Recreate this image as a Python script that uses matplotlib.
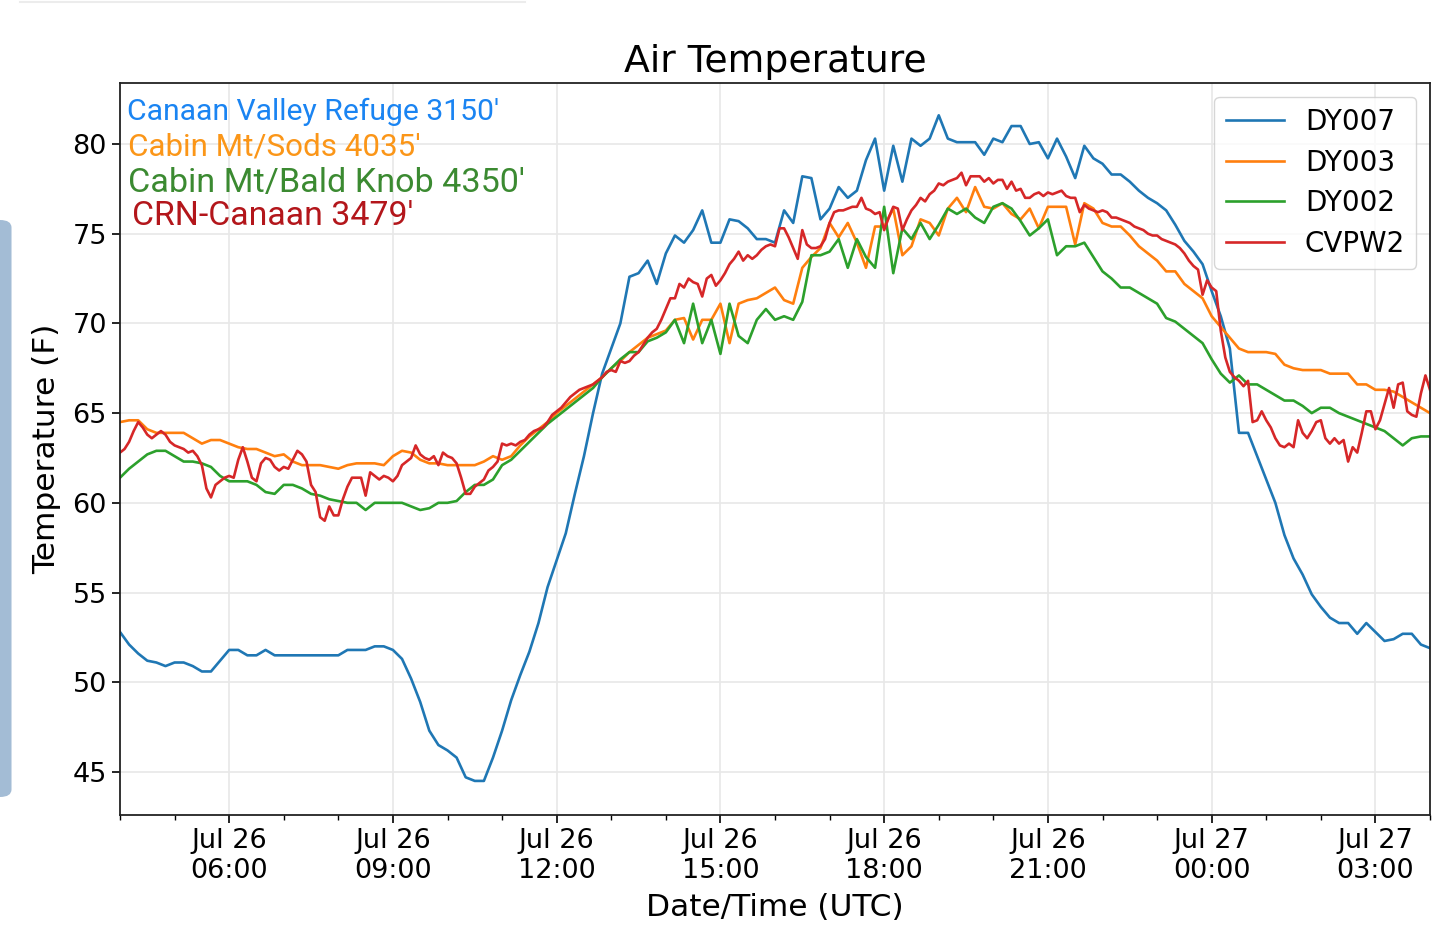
import numpy as np
import pandas as pd
import matplotlib
matplotlib.use('Agg')
import matplotlib.pyplot as plt
import matplotlib.dates as mdates
from matplotlib.patches import FancyBboxPatch
from matplotlib.lines import Line2D

# air temperature (F), 10 minute steps from Jul 26 04:00 UTC
dy007 = [
    52.8, 52.1, 51.6, 51.2, 51.1, 50.9,  # 04
    51.1, 51.1, 50.9, 50.6, 50.6, 51.2,  # 05
    51.8, 51.8, 51.5, 51.5, 51.8, 51.5,  # 06
    51.5, 51.5, 51.5, 51.5, 51.5, 51.5,  # 07
    51.5, 51.8, 51.8, 51.8, 52.0, 52.0,  # 08
    51.8, 51.3, 50.2, 48.9, 47.3, 46.5,  # 09
    46.2, 45.8, 44.7, 44.5, 44.5, 45.8,  # 10
    47.3, 49.0, 50.4, 51.7, 53.3, 55.3,  # 11
    56.8, 58.3, 60.5, 62.6, 65.0, 67.2,  # 12
    68.6, 70.0, 72.6, 72.8, 73.5, 72.2,  # 13
    73.9, 74.9, 74.5, 75.2, 76.3, 74.5,  # 14
    74.5, 75.8, 75.7, 75.3, 74.7, 74.7,  # 15
    74.5, 76.3, 75.6, 78.2, 78.1, 75.8,  # 16
    76.4, 77.6, 77.0, 77.4, 79.1, 80.3,  # 17
    77.4, 79.9, 77.9, 80.3, 79.9, 80.3,  # 18
    81.6, 80.3, 80.1, 80.1, 80.1, 79.4,  # 19
    80.3, 80.1, 81.0, 81.0, 80.0, 80.1,  # 20
    79.2, 80.3, 79.3, 78.1, 79.9, 79.2,  # 21
    78.9, 78.3, 78.3, 77.9, 77.4, 77.0,  # 22
    76.7, 76.3, 75.5, 74.6, 74.0, 73.3,  # 23
    71.8, 70.4, 68.6, 63.9, 63.9, 62.6,  # 00
    61.3, 60.0, 58.2, 56.9, 56.0, 54.9,  # 01
    54.2, 53.6, 53.3, 53.3, 52.7, 53.3,  # 02
    52.8, 52.3, 52.4, 52.7, 52.7, 52.1,  # 03
    51.9]

dy003 = [
    64.5, 64.6, 64.6, 64.1, 63.9, 63.9,
    63.9, 63.9, 63.6, 63.3, 63.5, 63.5,
    63.3, 63.1, 63.0, 63.0, 62.8, 62.6,
    62.7, 62.3, 62.1, 62.1, 62.1, 62.0,
    61.9, 62.1, 62.2, 62.2, 62.2, 62.1,
    62.6, 62.9, 62.8, 62.4, 62.2, 62.2,
    62.1, 62.1, 62.1, 62.1, 62.3, 62.6,
    62.4, 62.6, 63.2, 63.7, 64.1, 64.5,
    65.0, 65.4, 65.8, 66.2, 66.6, 67.0,
    67.5, 67.9, 68.4, 68.8, 69.2, 69.4,
    69.6, 70.2, 70.3, 69.1, 70.2, 70.2,
    71.1, 68.9, 71.1, 71.3, 71.4, 71.7,
    72.0, 71.3, 71.1, 73.1, 73.7, 74.2,
    75.6, 74.8, 75.6, 74.5, 73.1, 75.4,
    75.4, 76.4, 73.8, 74.3, 75.8, 75.6,
    74.9, 76.4, 77.0, 76.2, 77.6, 76.5,
    76.4, 76.7, 76.1, 75.8, 76.4, 75.3,
    76.5, 76.5, 76.5, 74.4, 76.7, 76.4,
    75.6, 75.4, 75.4, 74.9, 74.3, 73.9,
    73.5, 72.9, 72.9, 72.2, 71.8, 71.4,
    70.4, 69.8, 69.2, 68.6, 68.4, 68.4,
    68.4, 68.3, 67.7, 67.5, 67.4, 67.4,
    67.4, 67.2, 67.2, 67.2, 66.6, 66.6,
    66.3, 66.3, 66.2, 65.9, 65.6, 65.3,
    65.0]

dy002 = [
    61.4, 61.9, 62.3, 62.7, 62.9, 62.9,
    62.6, 62.3, 62.3, 62.2, 62.0, 61.5,
    61.2, 61.2, 61.2, 61.0, 60.6, 60.5,
    61.0, 61.0, 60.8, 60.5, 60.4, 60.2,
    60.1, 60.0, 60.0, 59.6, 60.0, 60.0,
    60.0, 60.0, 59.8, 59.6, 59.7, 60.0,
    60.0, 60.1, 60.6, 61.0, 61.0, 61.3,
    62.1, 62.4, 62.9, 63.4, 63.9, 64.4,
    64.8, 65.2, 65.6, 66.0, 66.4, 67.0,
    67.5, 68.0, 68.4, 68.4, 69.0, 69.2,
    69.5, 70.2, 68.9, 71.1, 68.9, 70.2,
    68.3, 71.1, 69.3, 68.9, 70.2, 70.8,
    70.2, 70.4, 70.2, 71.2, 73.8, 73.8,
    74.0, 74.7, 73.1, 74.7, 73.7, 73.1,
    76.5, 72.8, 75.3, 74.7, 75.6, 74.7,
    75.5, 76.4, 76.1, 76.4, 75.9, 75.6,
    76.5, 76.7, 76.4, 75.7, 74.9, 75.3,
    75.8, 73.8, 74.3, 74.3, 74.5, 73.7,
    72.9, 72.5, 72.0, 72.0, 71.7, 71.4,
    71.1, 70.3, 70.1, 69.7, 69.3, 68.9,
    68.0, 67.2, 66.7, 67.1, 66.6, 66.6,
    66.3, 66.0, 65.7, 65.7, 65.4, 65.0,
    65.3, 65.3, 65.0, 64.8, 64.6, 64.4,
    64.2, 64.0, 63.6, 63.2, 63.6, 63.7,
    63.7]

# CVPW2 reports every 5 minutes
cvpw2 = [
    62.8, 63.0, 63.4, 64.0, 64.5, 64.2, 63.8, 63.6, 63.8, 64.0, 63.8, 63.4,  # 04
    63.2, 63.1, 63.0, 62.8, 62.9, 62.6, 62.1, 60.8, 60.3, 61.0, 61.2, 61.4,  # 05
    61.5, 61.4, 62.4, 63.1, 62.3, 61.4, 61.2, 62.2, 62.5, 62.4, 62.0, 61.8,  # 06
    62.0, 61.9, 62.4, 62.9, 62.7, 62.3, 61.0, 60.6, 59.2, 59.0, 59.8, 59.3,  # 07
    59.3, 60.2, 60.9, 61.4, 61.4, 61.4, 60.4, 61.7, 61.5, 61.3, 61.5, 61.4,  # 08
    61.2, 61.5, 62.1, 62.3, 62.5, 63.2, 62.7, 62.5, 62.4, 62.6, 62.1, 62.8,  # 09
    62.6, 62.5, 62.2, 61.4, 60.5, 60.5, 60.9, 61.1, 61.3, 61.8, 62.0, 62.3,  # 10
    63.3, 63.2, 63.3, 63.2, 63.4, 63.5, 63.8, 64.0, 64.1, 64.2, 64.5, 64.9,  # 11
    65.1, 65.3, 65.6, 65.9, 66.1, 66.3, 66.4, 66.5, 66.6, 66.8, 67.0, 67.3,  # 12
    67.4, 67.3, 67.9, 67.8, 67.9, 68.2, 68.4, 68.8, 69.2, 69.5, 69.7, 70.2,  # 13
    70.8, 71.4, 71.4, 72.2, 72.0, 72.5, 72.3, 72.2, 71.5, 72.5, 72.7, 72.1,  # 14
    72.4, 72.8, 73.3, 73.6, 74.0, 73.5, 73.8, 73.6, 73.8, 74.1, 74.3, 74.4,  # 15
    74.3, 75.3, 75.3, 74.8, 74.2, 73.6, 75.2, 74.4, 74.2, 74.2, 74.3, 74.7,  # 16
    75.6, 76.2, 76.3, 76.3, 76.4, 76.5, 76.5, 77.0, 76.4, 76.3, 76.1, 76.2,  # 17
    75.2, 75.9, 76.5, 76.4, 75.2, 75.8, 76.3, 76.6, 77.0, 76.8, 77.2, 77.4,  # 18
    77.8, 77.7, 77.9, 78.0, 78.1, 78.4, 77.7, 78.2, 78.2, 78.2, 77.9, 78.1,  # 19
    77.8, 78.0, 78.0, 77.5, 77.9, 77.4, 77.5, 77.0, 77.0, 77.2, 77.3, 77.1,  # 20
    77.3, 77.2, 77.3, 77.4, 77.1, 77.0, 77.0, 76.2, 76.6, 76.4, 76.3, 76.2,  # 21
    76.3, 76.2, 75.9, 75.9, 75.8, 75.7, 75.6, 75.4, 75.3, 75.2, 75.0, 74.9,  # 22
    74.9, 74.7, 74.6, 74.5, 74.4, 74.2, 73.9, 73.5, 73.2, 73.0, 71.6, 72.4,  # 23
    72.0, 71.8, 69.6, 68.1, 67.3, 67.0, 66.8, 66.5, 66.8, 64.5, 64.6, 65.1,  # 00
    64.6, 64.2, 63.6, 63.2, 63.1, 63.3, 63.1, 64.6, 63.9, 63.6, 64.0, 64.5,  # 01
    64.6, 63.6, 63.3, 63.6, 63.3, 63.5, 62.3, 63.1, 62.8, 63.9, 65.1, 65.1,  # 02
    64.1, 64.6, 65.5, 66.4, 65.3, 66.6, 66.7, 65.1, 64.9, 64.8, 66.1, 67.1,  # 03
    66.3]

station_names = ['DY007', 'DY003', 'DY002', 'CVPW2']
site_labels = ["Canaan Valley Refuge 3150'", "Cabin Mt/Sods 4035'",
               "Cabin Mt/Bald Knob 4350'", "CRN-Canaan 3479'"]
site_colors = ['#1a84f2', '#fb9618', '#3b8a31', '#b3161b']

start = pd.Timestamp('2019-07-26 04:00')
t10 = pd.date_range(start, periods=len(dy007), freq='10min')
t5 = pd.date_range(start, periods=len(cvpw2), freq='5min')

plt.rcParams['font.family'] = 'DejaVu Sans'

fig = plt.figure(figsize=(14.4, 9.47), dpi=100)
ax = fig.add_axes([120 / 1440, 1 - 815 / 947, 1310 / 1440, 732 / 947])

ax.plot(t10, dy007, color='C0', lw=1.9, label=station_names[0])
ax.plot(t10, dy003, color='C1', lw=1.9, label=station_names[1])
ax.plot(t10, dy002, color='C2', lw=1.9, label=station_names[2])
ax.plot(t5, cvpw2, color='C3', lw=1.9, label=station_names[3])

ax.set_xlim(start, start + pd.Timedelta(hours=24))
ax.set_ylim(42.6, 83.4)
ax.set_yticks([45, 50, 55, 60, 65, 70, 75, 80])

ax.xaxis.set_major_locator(mdates.HourLocator(byhour=range(0, 24, 3)))
ax.xaxis.set_minor_locator(mdates.HourLocator())
ax.xaxis.set_major_formatter(mdates.DateFormatter('%b %d\n%H:%M'))

ax.grid(True, color='#e8e8e8', lw=1.2)
ax.set_axisbelow(True)
ax.tick_params(axis='both', which='major', labelsize=19.5, length=6, width=1.2)
ax.tick_params(axis='x', which='minor', length=3.5, width=1.0)
for s in ax.spines.values():
    s.set_linewidth(1.3)
    s.set_color('#222222')

ax.set_title('Air Temperature', fontsize=27.2, pad=8)
ax.set_xlabel('Date/Time (UTC)', fontsize=22.5, labelpad=6)
ax.set_ylabel('Temperature (F)', fontsize=22.5, labelpad=8)

leg = ax.legend(loc='upper right', fontsize=20, framealpha=0.8,
                handlelength=2.1, handletextpad=0.75, labelspacing=0.45)

# station names in the top-left corner
ys = [0.960, 0.913, 0.864, 0.818]
xs = [0.005, 0.006, 0.006, 0.009]
sizes = [21.7, 22.6, 24.6, 24.4]
for lab, col, xx, yy, fs in zip(site_labels, site_colors, xs, ys, sizes):
    ax.text(xx, yy, lab, color=col, fontsize=fs, family='Roboto',
            transform=ax.transAxes, va='center', ha='left')

# bits of the phone screen around the chart
fig.add_artist(FancyBboxPatch((-0.01, 1 - 797 / 947), 0.018, 577 / 947,
                              boxstyle='round,pad=0,rounding_size=0.008',
                              transform=fig.transFigure, facecolor='#a3bcd5',
                              edgecolor='none'))
fig.add_artist(Line2D([20 / 1440, 525 / 1440], [1 - 2 / 947, 1 - 2 / 947],
                      transform=fig.transFigure, color='#ececec', lw=1.5))

fig.savefig('out.png', dpi=100)
